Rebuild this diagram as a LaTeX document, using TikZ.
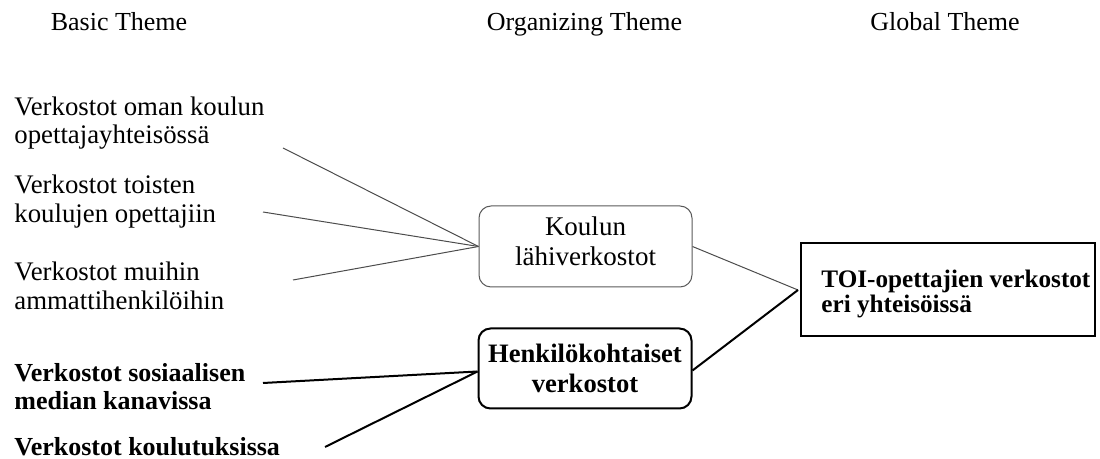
\documentclass[tikz,border=0pt]{standalone}
\usepackage{fontspec}
\setmainfont{Liberation Serif}
\begin{document}
\begin{tikzpicture}[x=0.5pt,y=-0.5pt,
  txt/.style={font=\fontsize{13.4}{14.25}\selectfont, inner sep=0pt},
  btxt/.style={font=\fontsize{13}{14.25}\selectfont\bfseries, inner sep=0pt},
  lbl/.style={txt, anchor=west, align=left},
  blbl/.style={btxt, anchor=west, align=left},
  hdr/.style={font=\fontsize{13}{14.25}\selectfont, inner sep=0pt, anchor=base},
  thinbox/.style={font=\fontsize{13.5}{15}\selectfont, inner sep=0pt, draw=black!65, line width=0.5pt,
    rounded corners=6pt, minimum width=106.5pt, minimum height=40.5pt, align=center, text depth=5pt},
  boldbox/.style={font=\fontsize{13.3}{15}\selectfont\bfseries, inner sep=0pt, draw=black, line width=1pt,
    rounded corners=6pt, minimum width=106.5pt, minimum height=40pt, align=center},
  globalbox/.style={draw=black, line width=1pt, inner sep=0pt,
    minimum width=147pt, minimum height=46.5pt},
  globaltext/.style={font=\fontsize{12.6}{12.8}\selectfont\bfseries, inner sep=0pt, align=left, anchor=west},
  thinline/.style={draw=black!70, line width=0.5pt},
  boldline/.style={draw=black, line width=1pt}
]
\useasboundingbox (0,0) rectangle (1100,459);

% headers
\node[hdr] (h1) at (119,31) {Basic Theme};
\node[hdr] (h2) at (584.5,31) {Organizing Theme};
\node[hdr] (h3) at (945,31) {Global Theme};

% basic themes
\node[lbl] (b1) at (14,123) {Verkostot oman koulun\\opettajayhteisössä};
\node[lbl] (b2) at (14,201.5) {Verkostot toisten\\koulujen opettajiin};
\node[lbl] (b3) at (14,286) {Verkostot muihin\\ammattihenkilöihin};
\node[blbl] (b4) at (14,386.5) {Verkostot sosiaalisen\\median kanavissa};
\node[blbl] (b5) at (14,447) {Verkostot koulutuksissa};

% organizing themes
\node[thinbox] (o1) at (585.5,246.5) {Koulun\\lähiverkostot};
\node[boldbox] (o2) at (585,368.5) {Henkilökohtaiset\\verkostot};

% global theme
\node[globalbox] (g) at (948,290) {};
\node[globaltext] (gt) at ([xshift=10.5pt,yshift=-2pt]g.west) {TOI-opettajien verkostot\\eri yhteisöissä};

% connector start points
\coordinate (c1) at (283,148);
\coordinate (c2) at (263,212);
\coordinate (c3) at (293,280);
\coordinate (c4) at (263,383);
\coordinate (c5) at (325,447);

\draw[thinline] (c1) -- (o1.west);
\draw[thinline] (c2) -- (o1.west);
\draw[thinline] (c3) -- (o1.west);
\draw[boldline] (c4) -- ([yshift=-1.5pt]o2.west);
\draw[boldline] (c5) -- ([yshift=-1.5pt]o2.west);
\draw[thinline] (o1.east) -- ([xshift=-1pt]g.west);
\draw[boldline] ([yshift=-1pt]o2.east) -- ([xshift=-1pt]g.west);
\end{tikzpicture}
\end{document}
